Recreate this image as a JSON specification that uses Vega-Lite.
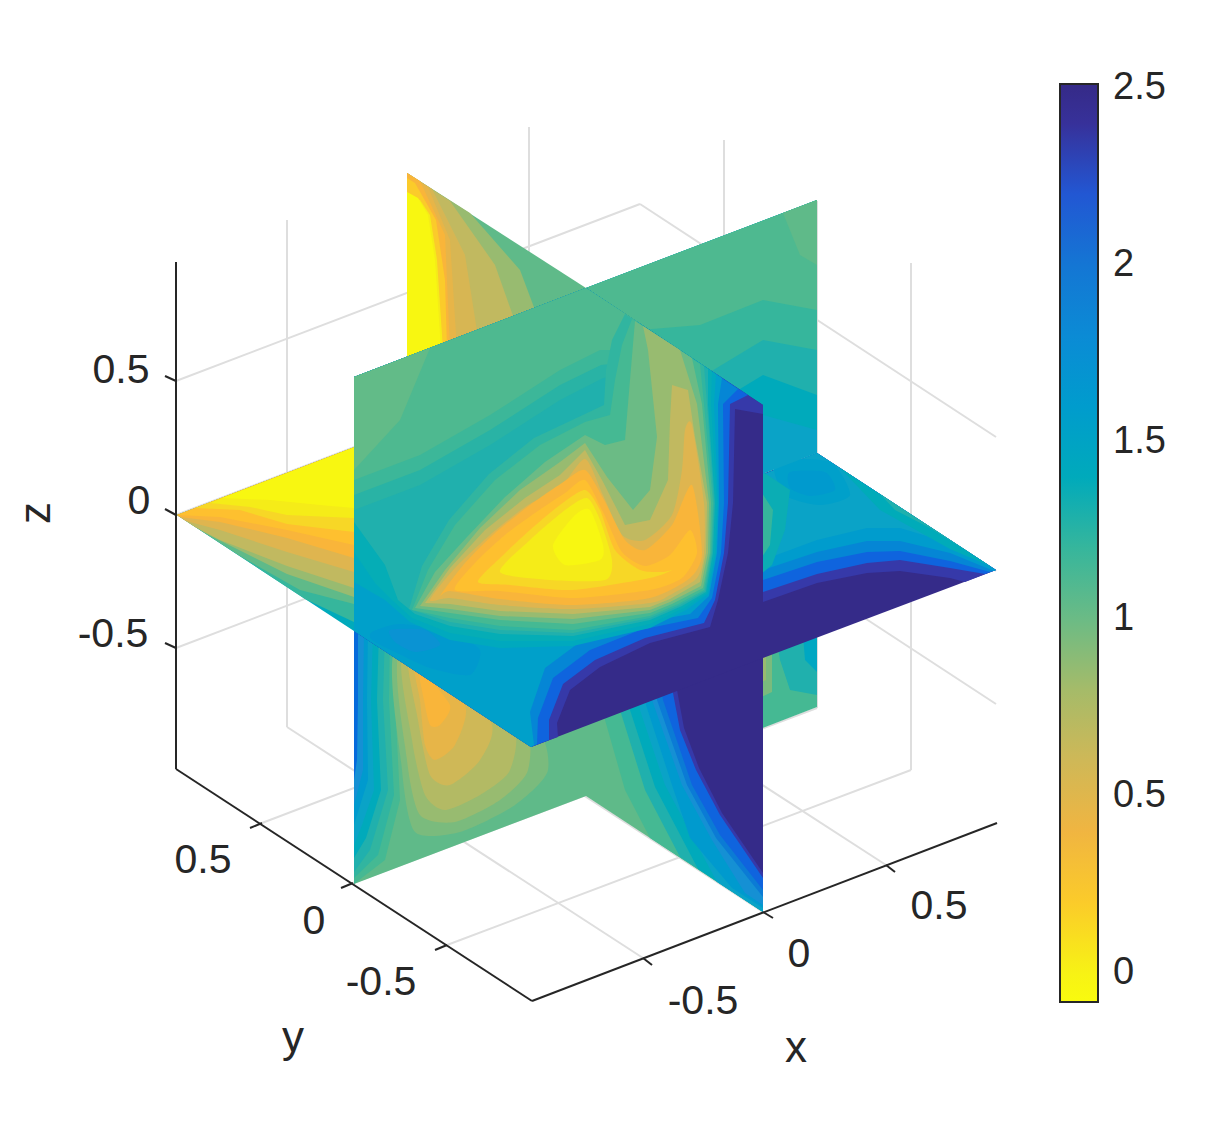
{"$schema":"https://vega.github.io/schema/vega-lite/v6.json","width":1219,"height":1125,"padding":0,"autosize":{"type":"fit","contains":"padding"},"background":"white","config":{"view":{"stroke":null}},
"datasets":{
"grid":[{"x":287,"y":727,"x2":287,"y2":220},{"x":408,"y":681,"x2":408,"y2":174},{"x":529,"y":634,"x2":529,"y2":127},{"x":724,"y":647,"x2":724,"y2":140},{"x":817,"y":708,"x2":817,"y2":201},{"x":911,"y":770,"x2":911,"y2":263},{"x":176,"y":381,"x2":640,"y2":204},{"x":640,"y":204,"x2":996,"y2":437},{"x":176,"y":515,"x2":640,"y2":338},{"x":640,"y":338,"x2":996,"y2":571},{"x":176,"y":648,"x2":640,"y2":471},{"x":640,"y":471,"x2":996,"y2":704},{"x":643,"y":958,"x2":287,"y2":727},{"x":763,"y":912,"x2":408,"y2":681},{"x":886,"y":865,"x2":529,"y2":634},{"x":447,"y":945,"x2":911,"y2":770},{"x":353,"y":883,"x2":817,"y2":708},{"x":262,"y":823,"x2":724,"y2":647}],
"axes":[{"x":176,"y":262,"x2":176,"y2":769},{"x":176,"y":769,"x2":532,"y2":1001},{"x":532,"y":1001,"x2":997,"y2":823},{"x":176,"y":381,"x2":165,"y2":376},{"x":176,"y":515,"x2":165,"y2":509},{"x":176,"y":648,"x2":165,"y2":643},{"x":262,"y":823,"x2":250,"y2":828},{"x":353,"y":883,"x2":341,"y2":888},{"x":447,"y":945,"x2":435,"y2":950},{"x":643,"y":958,"x2":652,"y2":965},{"x":763,"y":912,"x2":773,"y2":918},{"x":886,"y":865,"x2":895,"y2":872},{"x":1088,"y":973,"x2":1097,"y2":973},{"x":1088,"y":796,"x2":1097,"y2":796},{"x":1088,"y":619,"x2":1097,"y2":619},{"x":1088,"y":442,"x2":1097,"y2":442},{"x":1088,"y":265,"x2":1097,"y2":265},{"x":1088,"y":88,"x2":1097,"y2":88}],
"labels":[{"t":"0.5","x":121,"y":371},{"t":"0","x":139,"y":502},{"t":"-0.5","x":113,"y":635},{"t":"0.5","x":203,"y":861},{"t":"0","x":314,"y":922},{"t":"-0.5","x":381,"y":983},{"t":"-0.5","x":703,"y":1002},{"t":"0","x":799,"y":955},{"t":"0.5","x":939,"y":907}],
"titles":[{"t":"x","x":796,"y":1049},{"t":"y","x":293,"y":1039}],
"ztitle":[{"t":"z","x":37,"y":513}],
"polys":[
{"p":1,"v":1.15,"x":[586,817,817,586],"y":[542,453,707,796]},
{"p":2,"v":0.95,"x":[755,772,772,755],"y":[640,640,692,700]},
{"p":3,"v":0.85,"x":[755,766,766,755],"y":[650,650,680,685]},
{"p":4,"v":1.3,"x":[775,817,817,790,780],"y":[630,600,695,690,660]},
{"p":5,"v":1.45,"x":[800,817,817,805],"y":[600,600,672,660]},
{"p":6,"v":1.05,"x":[354,586,586,354],"y":[631,542,796,884]},
{"p":7,"v":1.15,"x":[354,395,395,400,385,354],"y":[620,630,700,800,860,884]},
{"p":7.5,"v":1.22,"x":[354,390,389,394,378,354],"y":[620,630,700,795,855,878]},
{"p":8,"v":1.3,"x":[354,385,383,388,370,354],"y":[620,630,700,790,850,872]},
{"p":8.5,"v":1.4,"x":[354,379,377,381,366,354],"y":[620,630,700,790,838,858]},
{"p":9,"v":1.5,"x":[354,373,371,374,362,354],"y":[620,630,700,790,825,845]},
{"p":9.5,"v":1.62,"x":[354,368,367,368,358,354],"y":[620,630,700,780,812,825]},
{"p":10,"v":1.75,"x":[354,364,363,363,354],"y":[620,630,700,770,805]},
{"p":11,"v":2.1,"x":[354,358,358,357,354],"y":[620,630,700,760,780]},
{"p":12,"v":0.95,"x":[398,530,548,515,460,415,402],"y":[645,720,770,805,832,832,770]},
{"p":12.5,"v":0.85,"x":[402,520,528,500,455,420,407],"y":[650,720,770,800,822,815,760]},
{"p":13,"v":0.75,"x":[405,510,510,480,445,425,412],"y":[650,720,770,795,810,795,740]},
{"p":14,"v":0.6,"x":[410,490,480,450,430,418],"y":[650,720,760,785,775,720]},
{"p":15,"v":0.45,"x":[415,465,455,435,425,420],"y":[660,705,745,760,745,700]},
{"p":16,"v":0.35,"x":[420,450,440,430,424],"y":[670,705,725,725,700]},
{"p":17,"v":1.05,"x":[586,763,763,586],"y":[640,640,912,796]},
{"p":18,"v":1.15,"x":[595,763,763,650,625,605],"y":[640,640,912,838,790,720]},
{"p":19,"v":1.3,"x":[612,763,763,680,645,620],"y":[640,640,912,857,790,710]},
{"p":19.5,"v":1.4,"x":[620,763,763,698,655,630],"y":[640,640,912,869,787,710]},
{"p":20,"v":1.5,"x":[628,763,763,717,665,640],"y":[640,640,912,882,785,710]},
{"p":20.5,"v":1.62,"x":[635,763,763,732,690,672,646],"y":[640,640,908,888,838,785,705]},
{"p":21,"v":1.75,"x":[642,763,763,745,712,682,652],"y":[640,640,905,893,840,785,700]},
{"p":21.5,"v":1.95,"x":[648,763,763,716,687,657],"y":[640,640,897,838,785,700]},
{"p":22,"v":2.15,"x":[655,763,763,720,692,663],"y":[640,640,890,835,785,700]},
{"p":23,"v":2.35,"x":[668,763,763,720,696,680,673],"y":[640,640,878,815,770,730,693]},
{"p":24,"v":2.5,"x":[672,763,763,722,699,684,677],"y":[640,640,873,813,768,728,690]},
{"p":25,"v":2.5,"x":[586,763,996,817],"y":[542,658,570,453]},
{"p":26,"v":2.35,"x":[763,817,867,900,950,965,996,817,700],"y":[602,583,573,571,578,582,570,453,500]},
{"p":27,"v":2.15,"x":[763,817,867,900,950,985,996,817,700],"y":[592,574,563,560,568,574,570,453,500]},
{"p":28,"v":1.85,"x":[763,817,867,900,950,990,996,817,700],"y":[580,562,552,551,561,572,570,453,500]},
{"p":29,"v":1.6,"x":[763,817,867,900,950,994,996,817,700],"y":[570,552,541,541,553,571,570,453,500]},
{"p":30,"v":1.5,"x":[763,817,867,900,950,996,817,700],"y":[560,540,528,528,543,570,453,500]},
{"p":31,"v":1.55,"x":[775,830,850,820,785],"y":[462,462,495,505,495]},
{"p":32,"v":1.62,"x":[790,825,835,810,790],"y":[472,472,490,496,488]},
{"p":33,"v":1.38,"x":[840,990,950,880],"y":[468,566,549,510]},
{"p":34,"v":1.3,"x":[880,975,930,895],"y":[494,556,528,510]},
{"p":35,"v":1.35,"x":[760,790,785,772,760],"y":[470,490,530,565,575]},
{"p":36,"v":1.2,"x":[760,773,770,760],"y":[490,510,545,560]},
{"p":37,"v":1.4,"x":[177,410,586,354],"y":[515,426,542,631]},
{"p":38,"v":1.2,"x":[305,354,400,410,177],"y":[599,622,600,426,515]},
{"p":39,"v":1.05,"x":[240,300,354,400,410,177],"y":[556,590,604,590,426,515]},
{"p":40,"v":0.85,"x":[205,287,354,400,410,177],"y":[533,574,597,590,426,515]},
{"p":41,"v":0.7,"x":[195,220,287,354,400,410,177],"y":[527,540,566,588,580,426,515]},
{"p":42,"v":0.5,"x":[186,220,287,354,400,410,177],"y":[521,530,552,572,570,426,515]},
{"p":43,"v":0.35,"x":[180,220,287,354,400,410,177],"y":[517,522,538,558,560,426,515]},
{"p":44,"v":0.25,"x":[220,287,354,400,410,177],"y":[517,530,545,550,426,515]},
{"p":45,"v":0.15,"x":[195,240,287,354,400,410],"y":[508,510,524,532,530,426]},
{"p":46,"v":0.05,"x":[210,250,287,354,400,410],"y":[503,507,515,518,520,426]},
{"p":47,"v":-0.05,"x":[222,270,320,354,400,410],"y":[498,500,505,508,510,426]},
{"p":48,"v":1.05,"x":[407,586,586,407],"y":[173,288,400,400]},
{"p":49,"v":0.85,"x":[407,470,520,550,407],"y":[173,213,270,350,400]},
{"p":50,"v":0.7,"x":[407,450,495,525,407],"y":[173,201,265,350,400]},
{"p":51,"v":0.55,"x":[407,432,465,480,407],"y":[173,189,255,350,400]},
{"p":52,"v":0.45,"x":[407,428,450,457,407],"y":[173,187,240,350,400]},
{"p":53,"v":0.35,"x":[407,420,445,450,407],"y":[173,181,235,350,400]},
{"p":54,"v":0.2,"x":[407,415,436,445,447,407],"y":[178,183,220,280,350,400]},
{"p":55,"v":0.05,"x":[407,420,430,437,443,407],"y":[192,200,215,260,350,400]},
{"p":56,"v":-0.05,"x":[407,418,428,435,441,407],"y":[192,198,215,260,350,400]},
{"p":57,"v":1.5,"x":[586,817,817,586],"y":[288,200,453,542]},
{"p":58,"v":1.4,"x":[586,817,817,763,745],"y":[288,200,430,415,394]},
{"p":59,"v":1.3,"x":[586,817,817,763,730],"y":[288,200,395,375,395]},
{"p":60,"v":1.2,"x":[586,817,817,763,710],"y":[288,200,350,340,372]},
{"p":61,"v":1.12,"x":[586,817,817,763,700,640],"y":[288,200,310,300,325,330]},
{"p":62,"v":1.05,"x":[783,817,817,800],"y":[213,200,265,255]},
{"p":63,"v":2.5,"x":[354,586,763,763,531,354],"y":[377,288,405,658,747,631]},
{"p":64,"v":2.35,"x":[354,586,763,763,735,733,728,718,710,650,600,570,557,558,531,354],"y":[377,288,405,414,409,503,553,600,627,643,667,690,723,737,747,631]},
{"p":65,"v":2.15,"x":[354,586,748,730,728,724,715,704,645,595,563,549,549,531,354],"y":[377,288,395,404,503,553,600,623,638,660,684,720,740,747,631]},
{"p":66,"v":1.85,"x":[354,586,738,723,724,721,712,698,640,590,553,538,537,531,354],"y":[377,288,389,404,503,553,598,618,630,650,678,718,744,747,631]},
{"p":67,"v":1.55,"x":[354,586,722,718,719,717,709,690,635,580,545,530,534,531,354],"y":[377,288,378,404,503,553,596,614,624,642,668,712,745,747,631]},
{"p":68,"v":1.62,"x":[372,400,450,480,470,430,395,372],"y":[632,624,632,650,675,668,652,640]},
{"p":69,"v":1.72,"x":[390,425,440,415,395],"y":[630,630,645,652,642]},
{"p":70,"v":1.42,"x":[354,586,716,714,718,716,708,686,650,573,500,450,410,385,354],"y":[377,288,374,404,503,553,594,610,628,646,648,640,622,600,582]},
{"p":70.5,"v":1.36,"x":[354,586,712,711,717,715,707,684,650,573,500,450,412,392,375,354],"y":[377,288,371,404,503,553,593,608,624,641,641,633,618,600,583,552]},
{"p":71,"v":1.3,"x":[354,586,708,708,715,713,706,682,650,573,500,450,415,398,385,354],"y":[377,288,369,404,503,553,592,606,620,636,634,626,614,600,565,522]},
{"p":71.2,"v":1.25,"x":[354,586,645,628,603,560,490,420,354],"y":[377,288,327,375,378,400,445,485,510]},
{"p":71.4,"v":1.18,"x":[354,586,642,627,601,560,490,420,354],"y":[377,288,325,362,365,385,430,470,495]},
{"p":72,"v":1.12,"x":[354,586,638,623,600,560,490,420,354],"y":[377,288,322,350,350,370,415,455,480]},
{"p":73,"v":1.04,"x":[354,430,400,354],"y":[377,348,420,470]},
{"p":73.5,"v":1.22,"x":[409,422,449,489,534,585,604,606,612,625,704,707,714,712,705,680,650,573,500,450],"y":[609,566,520,474,438,414,405,370,340,314,366,404,503,553,591,605,618,633,630,622]},
{"p":74,"v":1.15,"x":[412,428,455,495,540,585,610,615,622,632,700,704,713,711,704,678,650,573,500,450],"y":[610,570,525,480,445,422,415,380,345,319,364,404,503,553,590,604,616,630,626,618]},
{"p":75,"v":1.0,"x":[415,435,467,505,545,585,605,625,630,635,692,702,711,710,703,672,650,573,500,450],"y":[608,572,537,497,462,435,445,440,380,321,358,404,503,553,588,604,613,624,620,613]},
{"p":76,"v":0.85,"x":[420,445,480,520,560,585,607,633,650,657,648,643,680,697,709,708,701,670,650,573,500,450],"y":[606,570,528,490,462,443,477,510,490,437,350,326,350,404,503,553,586,602,610,619,616,609]},
{"p":77,"v":0.7,"x":[425,450,485,525,560,585,602,625,650,668,670,672,688,695,707,706,700,670,650,573,500,450],"y":[603,568,530,498,475,450,480,525,520,480,420,385,390,437,503,553,582,599,607,614,611,604]},
{"p":78,"v":0.5,"x":[430,455,490,528,560,585,603,622,645,672,682,685,692,704,704,697,670,650,573,500,450],"y":[600,568,535,505,488,459,495,535,540,515,470,430,425,503,553,578,595,603,609,605,598]},
{"p":79,"v":0.35,"x":[440,465,495,530,562,585,604,625,645,672,692,702,690,650,573,500,450],"y":[596,563,533,505,483,470,500,540,550,525,485,553,578,598,605,599,591]},
{"p":80,"v":0.25,"x":[455,475,505,535,565,585,603,622,645,670,690,697,682,650,573,500],"y":[590,563,535,513,493,480,512,552,566,555,530,553,578,590,598,591]},
{"p":81,"v":0.15,"x":[478,500,530,560,585,600,615,640,662,672,650,573,510],"y":[582,558,530,505,490,510,550,570,572,570,578,590,585]},
{"p":82,"v":0.05,"x":[500,530,565,587,600,612,605,550],"y":[572,540,510,498,520,560,580,580]},
{"p":83,"v":-0.05,"x":[553,575,590,603,600,565],"y":[545,515,510,545,560,565]}
]},
"encoding":{"x":{"field":"x","type":"quantitative","axis":null,"scale":{"domain":[0,1219],"nice":false,"zero":false}},"y":{"field":"y","type":"quantitative","axis":null,"scale":{"domain":[1125,0],"nice":false,"zero":false}}},
"layer":[
{"data":{"name":"grid"},"mark":{"type":"rule","stroke":"#dedede","strokeWidth":2},"encoding":{"x2":{"field":"x2"},"y2":{"field":"y2"}}},
{"data":{"name":"polys"},"transform":[{"flatten":["x","y"]}],"encoding":{"detail":{"field":"p","type":"nominal"},"order":{"value":null},"fill":{"field":"v","type":"quantitative","scale":{"domain":[-0.082,0.05,0.15,0.25,0.35,0.5,0.7,0.85,1.0,1.15,1.3,1.5,1.75,2.0,2.15,2.25,2.4,2.511],"range":["#f9fb0e","#f5ec18","#f7d726","#fec02f","#f9b53a","#dfb54f","#c1b960","#98bb70","#6bbb85","#45b993","#20b0ad","#0aa3c7","#1590d4","#1476d4","#0f64de","#2e49c8","#37319a","#352a87"]},"legend":{"type":"gradient","title":null,"orient":"none","legendX":1060,"legendY":84,"direction":"vertical","gradientLength":918,"gradientThickness":38,"gradientStrokeColor":"#262626","gradientStrokeWidth":2,"values":[0,0.5,1,1.5,2,2.5],"labelFont":"Liberation Sans","labelFontSize":38,"labelColor":"#262626","labelOffset":15,"labelOverlap":false,"labelExpr":"datum.value"}}},
"layer":[
{"transform":[{"filter":"datum.p<12"}],"mark":{"type":"line","filled":true,"interpolate":"linear"}},
{"transform":[{"filter":"datum.p>=12&&datum.p<17"}],"mark":{"type":"line","filled":true,"interpolate":"cardinal-closed","tension":0.3}},
{"transform":[{"filter":"datum.p>=17&&datum.p<31"}],"mark":{"type":"line","filled":true,"interpolate":"linear"}},
{"transform":[{"filter":"datum.p>=31&&datum.p<33"}],"mark":{"type":"line","filled":true,"interpolate":"cardinal-closed","tension":0.3}},
{"transform":[{"filter":"datum.p>=33&&datum.p<68"}],"mark":{"type":"line","filled":true,"interpolate":"linear"}},
{"transform":[{"filter":"datum.p>=68&&datum.p<70"}],"mark":{"type":"line","filled":true,"interpolate":"cardinal-closed","tension":0.3}},
{"transform":[{"filter":"datum.p>=70&&datum.p<78"}],"mark":{"type":"line","filled":true,"interpolate":"linear"}},
{"transform":[{"filter":"datum.p>=78"}],"mark":{"type":"line","filled":true,"interpolate":"cardinal-closed","tension":0.3}}
]},
{"data":{"name":"axes"},"mark":{"type":"rule","stroke":"#262626","strokeWidth":2},"encoding":{"x2":{"field":"x2"},"y2":{"field":"y2"}}},
{"data":{"name":"labels"},"mark":{"type":"text","font":"Liberation Sans","fontSize":41,"fill":"#262626","align":"center","baseline":"middle"},"encoding":{"text":{"field":"t"}}},
{"data":{"name":"titles"},"mark":{"type":"text","font":"Liberation Sans","fontSize":44,"fill":"#262626","align":"center","baseline":"middle"},"encoding":{"text":{"field":"t"}}},
{"data":{"name":"ztitle"},"mark":{"type":"text","font":"Liberation Sans","fontSize":44,"fill":"#262626","align":"center","baseline":"middle","angle":270},"encoding":{"text":{"field":"t"}}}
]}
